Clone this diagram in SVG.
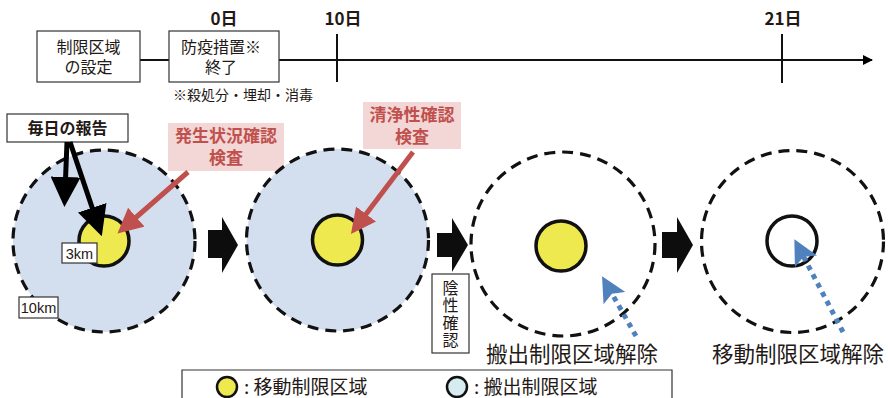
<svg xmlns="http://www.w3.org/2000/svg" width="888" height="398" viewBox="0 0 888 398">
<style>
text{font-family:"Noto Sans CJK JP","Noto Sans",sans-serif;fill:#231815}
.box{fill:#fff;stroke:#333;stroke-width:1.2}
.lbl{font-size:16px;text-anchor:middle}
.day{font-size:17px;font-weight:bold;text-anchor:middle}
.zone{fill:#d3dfee;stroke:#111;stroke-width:3.2;stroke-dasharray:11 7}
.ring{fill:none;stroke:#111;stroke-width:3.2;stroke-dasharray:11 7}
.yel{fill:#ede94f;stroke:#111;stroke-width:3.5}
.pink{fill:#f2d7d6}
.ptxt{font-size:17px;font-weight:bold;text-anchor:middle;fill:#c0504d}
.km{font-size:14.5px;text-anchor:middle;font-family:"Liberation Sans",sans-serif}
.blk{fill:#0d0d0d}
.big{font-size:21.5px;text-anchor:middle}
.leg{font-size:19px}
</style>
<defs>
<marker id="ah" markerWidth="10" markerHeight="10" refX="9" refY="5" orient="auto" markerUnits="userSpaceOnUse"><path d="M0,0 L10,5 L0,10 Z" fill="#000"/></marker>
<marker id="bk" markerWidth="6" markerHeight="6" refX="3" refY="3" orient="auto"><path d="M0,0 L6,3 L0,6 Z" fill="#000"/></marker>
<marker id="rd" markerWidth="5" markerHeight="5" refX="3" refY="2.5" orient="auto"><path d="M0,0 L5,2.5 L0,5 Z" fill="#c0504d"/></marker>
<marker id="bl" markerWidth="5" markerHeight="5" refX="3" refY="2.5" orient="auto"><path d="M0,0 L5,2.5 L0,5 L1,2.5 Z" fill="#4f81bd"/></marker>
</defs>

<g id="timeline">
<line x1="140" y1="60" x2="169" y2="60" stroke="#111" stroke-width="2"/>
<line x1="279" y1="60" x2="872" y2="60" stroke="#111" stroke-width="2" marker-end="url(#ah)"/>
<line x1="337" y1="34" x2="337" y2="82" stroke="#111" stroke-width="2"/>
<line x1="782" y1="34" x2="782" y2="83" stroke="#111" stroke-width="2"/>
<text class="day" x="224" y="25">0日</text>
<text class="day" x="343" y="25">10日</text>
<text class="day" x="783" y="25">21日</text>
</g>

<g id="box-setup">
<rect class="box" x="37" y="31" width="103" height="51"/>
<text class="lbl"><tspan x="88.5" y="53">制限区域</tspan><tspan x="88.5" y="73">の設定</tspan></text>
</g>
<g id="box-end">
<rect class="box" x="169" y="31" width="110" height="51"/>
<text class="lbl"><tspan x="221" y="53">防疫措置※</tspan><tspan x="221" y="73">終了</tspan></text>
<text x="243" y="100" style="font-size:14px;text-anchor:middle">※殺処分・埋却・消毒</text>
</g>

<g id="stage1">
<circle class="zone" cx="104" cy="241" r="91"/>
<circle class="yel" cx="104" cy="241" r="25"/>
<rect class="box" x="62" y="243" width="35" height="20"/>
<text class="km" x="79.5" y="258.5">3km</text>
<rect class="box" x="19" y="297" width="39" height="21"/>
<text class="km" x="38.5" y="312.5">10km</text>
</g>

<g id="report">
<rect class="box" x="7" y="114" width="121" height="28" stroke="#111"/>
<text x="67.5" y="134" style="font-size:16px;font-weight:bold;text-anchor:middle">毎日の報告</text>
</g>

<g id="pink1">
<rect class="pink" x="168" y="123" width="116" height="48"/>
<text class="ptxt"><tspan x="226" y="142">発生状況確認</tspan><tspan x="226" y="164">検査</tspan></text>
</g>

<g id="stage2">
<circle class="zone" cx="337.5" cy="240" r="91"/>
<circle class="yel" cx="337.5" cy="240" r="25"/>
</g>

<g id="pink2">
<rect class="pink" x="363" y="102" width="98" height="47"/>
<text class="ptxt"><tspan x="412" y="121">清浄性確認</tspan><tspan x="412" y="143">検査</tspan></text>
</g>

<g id="negative">
<rect class="box" x="432" y="274" width="37" height="79"/>
<text x="450.5" y="280" writing-mode="tb" style="font-size:16px;letter-spacing:1.3px">陰性確認</text>
</g>

<g id="stage3">
<circle class="ring" cx="563" cy="244" r="92"/>
<circle class="yel" cx="561" cy="246" r="25"/>
<text class="big" x="572" y="362">搬出制限区域解除</text>
</g>

<g id="stage4">
<circle class="ring" cx="792.5" cy="241.5" r="91"/>
<circle cx="792" cy="241" r="25" fill="none" stroke="#111" stroke-width="3.5"/>
<text class="big" x="798" y="362">移動制限区域解除</text>
</g>

<g id="connectors">
<line x1="67" y1="142" x2="65" y2="192" stroke="#000" stroke-width="5" marker-end="url(#bk)"/>
<line x1="70" y1="142" x2="97" y2="222" stroke="#000" stroke-width="5" marker-end="url(#bk)"/>
<line x1="188" y1="172" x2="125" y2="227" stroke="#c0504d" stroke-width="5" marker-end="url(#rd)"/>
<line x1="413" y1="152" x2="357" y2="226" stroke="#c0504d" stroke-width="5" marker-end="url(#rd)"/>
<line x1="636" y1="336" x2="607" y2="285" stroke="#4f81bd" stroke-width="5" stroke-dasharray="5 5" marker-end="url(#bl)"/>
<line x1="843" y1="332" x2="799" y2="248" stroke="#4f81bd" stroke-width="5" stroke-dasharray="5 5" marker-end="url(#bl)"/>
<path class="blk" d="M208,230 H222 V217 L238,245 L222,273 V258 H208 Z"/>
<path class="blk" d="M437,233 H452 V218 L468,245 L452,272 V257 H437 Z"/>
<path class="blk" d="M662,232 H677 V217 L693,245 L677,273 V258 H662 Z"/>
</g>

<g id="legend">
<path d="M182,398 V370 H672 V398" fill="none" stroke="#333" stroke-width="1.2"/>
<circle cx="227" cy="387" r="10" fill="#ede94f" stroke="#111" stroke-width="2.5"/>
<text class="leg" x="244" y="394">: 移動制限区域</text>
<circle cx="457" cy="387" r="10" fill="#d6ecf1" stroke="#111" stroke-width="2.5"/>
<text class="leg" x="474" y="394">: 搬出制限区域</text>
</g>
</svg>
